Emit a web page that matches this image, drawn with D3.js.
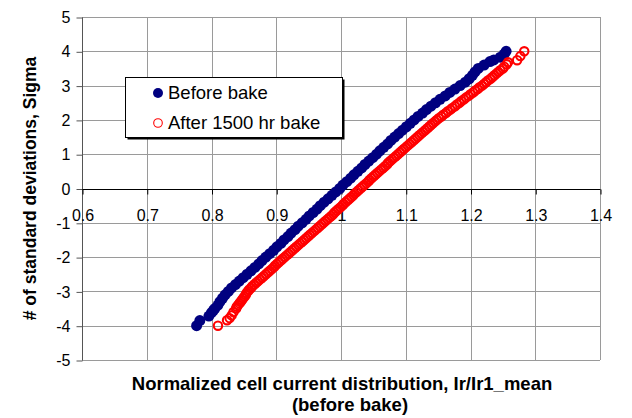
<!DOCTYPE html>
<html>
<head>
<meta charset="utf-8">
<script src="https://cdn.jsdelivr.net/npm/d3@7"></script>
<style>
  html, body { margin: 0; padding: 0; background: #fff; }
  svg { display: block; font-family: "Liberation Sans", Arial, sans-serif; }
</style>
</head>
<body>
<svg id="chart" width="632" height="418"></svg>
<script>
// ---- Data ----
const xTicks = [0.6, 0.7, 0.8, 0.9, 1, 1.1, 1.2, 1.3, 1.4];
const yTicks = [-5, -4, -3, -2, -1, 0, 1, 2, 3, 4, 5];
const seriesNames = ["Before bake", "After 1500 hr bake"];

// Before bake: sigma (y) and normalized current (x)
const beforeSigma = [-4.0, -3.85, -3.72, -3.62, -3.55,
  -3.5, -3.4, -3.3, -3.2, -3.1, -3.0, -2.9, -2.8, -2.7, -2.6, -2.5, -2.4, -2.3, -2.2, -2.1,
  -2.0, -1.9, -1.8, -1.7, -1.6, -1.5, -1.4, -1.3, -1.2, -1.1, -1.0, -0.9, -0.8, -0.7, -0.6,
  -0.5, -0.4, -0.3, -0.2, -0.1, 0.0, 0.1, 0.2, 0.3, 0.4, 0.5, 0.6, 0.7, 0.8, 0.9,
  1.0, 1.1, 1.2, 1.3, 1.4, 1.5, 1.6, 1.7, 1.8, 1.9, 2.0, 2.1, 2.2, 2.3, 2.4,
  2.5, 2.6, 2.7, 2.8, 2.9, 3.0, 3.1, 3.2, 3.3, 3.4, 3.5,
  3.6, 3.7, 3.75, 3.83, 3.92, 4.0];
const beforeX = [0.777, 0.782, 0.796, 0.800, 0.803,
  0.805, 0.810, 0.813, 0.817, 0.821, 0.826, 0.831, 0.837, 0.843, 0.849, 0.855, 0.861, 0.867, 0.873, 0.878,
  0.884, 0.890, 0.896, 0.901, 0.907, 0.912, 0.918, 0.923, 0.929, 0.934, 0.940, 0.946, 0.951, 0.957, 0.963,
  0.968, 0.974, 0.980, 0.986, 0.992, 0.998, 1.003, 1.009, 1.015, 1.020, 1.026, 1.032, 1.037, 1.043, 1.049,
  1.055, 1.060, 1.066, 1.072, 1.077, 1.083, 1.089, 1.095, 1.101, 1.107, 1.113, 1.119, 1.126, 1.132, 1.139,
  1.146, 1.153, 1.161, 1.168, 1.176, 1.184, 1.192, 1.198, 1.203, 1.207, 1.212,
  1.221, 1.230, 1.236, 1.246, 1.252, 1.255];

// After 1500 hr bake
const afterSigma = [-4.0, -3.84, -3.78, -3.7, -3.6, -3.5, -3.45,
  -3.40, -3.35, -3.30, -3.25, -3.20, -3.15, -3.10, -3.05, -3.00, -2.95, -2.90, -2.85, -2.80, -2.75,
  -2.70, -2.65, -2.60, -2.55, -2.50, -2.45, -2.40, -2.35, -2.30, -2.25, -2.20, -2.15, -2.10, -2.05,
  -2.00, -1.95, -1.90, -1.85, -1.80, -1.75, -1.70, -1.65, -1.60, -1.55, -1.50, -1.45, -1.40, -1.35,
  -1.30, -1.25, -1.20, -1.15, -1.10, -1.05, -1.00, -0.95, -0.90, -0.85, -0.80, -0.75, -0.70, -0.65,
  -0.60, -0.55, -0.50, -0.45, -0.40, -0.35, -0.30, -0.25, -0.20, -0.15, -0.10, -0.05, 0.00, 0.05,
  0.10, 0.15, 0.20, 0.25, 0.30, 0.35, 0.40, 0.45, 0.50, 0.55, 0.60, 0.65, 0.70, 0.75, 0.80, 0.85,
  0.90, 0.95, 1.00, 1.05, 1.10, 1.15, 1.20, 1.25, 1.30, 1.35, 1.40, 1.45, 1.50, 1.55, 1.60, 1.65,
  1.70, 1.75, 1.80, 1.85, 1.90, 1.95, 2.00, 2.05, 2.10, 2.15, 2.20, 2.25, 2.30, 2.35, 2.40, 2.45,
  2.50, 2.55, 2.60, 2.65, 2.70, 2.75, 2.80, 2.85, 2.90, 2.95, 3.00, 3.05, 3.10, 3.15, 3.20, 3.25,
  3.30, 3.35, 3.40, 3.45, 3.50, 3.55, 3.62, 3.68, 3.74, 3.86, 4.0];
const afterX = [0.810, 0.824, 0.828, 0.831, 0.834, 0.838, 0.839,
  0.841, 0.843, 0.845, 0.847, 0.849, 0.851, 0.853, 0.854, 0.856, 0.858, 0.861, 0.863, 0.866, 0.869,
  0.872, 0.875, 0.878, 0.881, 0.884, 0.887, 0.890, 0.893, 0.896, 0.898, 0.901, 0.904, 0.907, 0.910,
  0.913, 0.916, 0.919, 0.922, 0.925, 0.928, 0.931, 0.934, 0.937, 0.940, 0.943, 0.946, 0.949, 0.952,
  0.955, 0.958, 0.961, 0.964, 0.967, 0.970, 0.973, 0.976, 0.979, 0.982, 0.985, 0.988, 0.990, 0.993,
  0.996, 0.999, 1.002, 1.004, 1.007, 1.010, 1.013, 1.016, 1.019, 1.021, 1.024, 1.027, 1.030, 1.033,
  1.036, 1.039, 1.042, 1.044, 1.047, 1.050, 1.053, 1.056, 1.059, 1.062, 1.065, 1.068, 1.071, 1.073, 1.076, 1.079,
  1.082, 1.085, 1.088, 1.091, 1.094, 1.097, 1.100, 1.103, 1.106, 1.109, 1.112, 1.115, 1.118, 1.121, 1.124, 1.127,
  1.130, 1.133, 1.136, 1.139, 1.142, 1.145, 1.148, 1.151, 1.155, 1.158, 1.162, 1.165, 1.169, 1.172, 1.176, 1.179,
  1.183, 1.186, 1.190, 1.193, 1.197, 1.200, 1.204, 1.207, 1.211, 1.214, 1.218, 1.221, 1.224, 1.227, 1.231, 1.234,
  1.237, 1.240, 1.243, 1.246, 1.250, 1.252, 1.256, 1.258, 1.272, 1.277, 1.283];

// ---- Chart ----
const svg = d3.select("#chart");
const plot = { left: 82, right: 600, top: 17, bottom: 360 };

const x = d3.scaleLinear().domain([0.6, 1.4]).range([plot.left, plot.right]);
const y = d3.scaleLinear().domain([-5, 5]).range([plot.bottom, plot.top]);

const font = '"Liberation Sans", Arial, sans-serif';

// Grid lines
const grid = svg.append("g");
grid.selectAll("line.h").data(yTicks).join("line")
  .attr("x1", plot.left).attr("x2", plot.right)
  .attr("y1", d => Math.round(y(d)) + 0.5).attr("y2", d => Math.round(y(d)) + 0.5)
  .attr("stroke", "#9a9a9a").attr("stroke-width", 1);
grid.selectAll("line.v").data(xTicks.slice(1)).join("line")
  .attr("x1", d => Math.round(x(d)) + 0.5).attr("x2", d => Math.round(x(d)) + 0.5)
  .attr("y1", plot.top).attr("y2", plot.bottom)
  .attr("stroke", "#9a9a9a").attr("stroke-width", 1);

// Y axis (left)
const yAxis = d3.axisLeft(y).tickValues(yTicks).tickSize(6).tickPadding(6).tickFormat(d => String(d));
const gy = svg.append("g").attr("transform", `translate(${plot.left + 0.5},0.5)`).call(yAxis);
gy.select(".domain").attr("stroke", "#555").attr("d", `M0,${y(5)}V${y(-5)}`);
gy.selectAll(".tick line").attr("stroke", "#555");
gy.selectAll(".tick text").attr("font-size", 16).attr("font-family", font).attr("fill", "#000");

// X axis at sigma = 0
const xAxis = d3.axisBottom(x).tickValues(xTicks).tickSize(5).tickPadding(15).tickFormat(d => String(d));
const gx = svg.append("g").attr("transform", `translate(0.5,${Math.round(y(0)) + 0.5})`).call(xAxis);
gx.select(".domain").attr("stroke", "#000").attr("d", `M${x(0.6)},0H${x(1.4)}`);
gx.selectAll(".tick line").attr("stroke", "#000");
gx.selectAll(".tick text").attr("font-size", 16).attr("font-family", font).attr("fill", "#000");

// Data points
const before = beforeSigma.map((s, i) => ({ s, v: beforeX[i] }));
const after = afterSigma.map((s, i) => ({ s, v: afterX[i] }));

svg.append("g").selectAll("circle").data(before).join("circle")
  .attr("cx", d => x(d.v)).attr("cy", d => y(d.s)).attr("r", 5.5)
  .attr("fill", "#000080");

svg.append("g").selectAll("circle").data(after).join("circle")
  .attr("cx", d => x(d.v)).attr("cy", d => y(d.s)).attr("r", 4.2)
  .attr("fill", "none").attr("stroke", "#ff0000").attr("stroke-width", 2.1);

// Legend
const lg = svg.append("g");
lg.append("rect").attr("x", 127.5).attr("y", 79.5).attr("width", 217).attr("height", 60).attr("fill", "#000");
lg.append("rect").attr("x", 125.5).attr("y", 77.5).attr("width", 217).attr("height", 60)
  .attr("fill", "#fff").attr("stroke", "#000").attr("stroke-width", 1);
lg.append("circle").attr("cx", 158).attr("cy", 93).attr("r", 5).attr("fill", "#000080");
lg.append("circle").attr("cx", 158).attr("cy", 123).attr("r", 4.3).attr("fill", "none")
  .attr("stroke", "#ff0000").attr("stroke-width", 1.1);
lg.selectAll("text").data(seriesNames).join("text")
  .attr("x", 168).attr("y", (d, i) => 99 + i * 30)
  .attr("font-size", 18.5).attr("font-family", font).attr("fill", "#000")
  .text(d => d);

// Axis titles
svg.append("text")
  .attr("transform", `translate(36,${(plot.top + plot.bottom) / 2}) rotate(-90)`)
  .attr("text-anchor", "middle").attr("font-size", 17.5).attr("font-weight", "bold")
  .attr("font-family", font).text("# of standard deviations, Sigma");

svg.append("text").attr("x", 342).attr("y", 390).attr("text-anchor", "middle")
  .attr("font-size", 18.5).attr("font-weight", "bold").attr("font-family", font)
  .text("Normalized cell current distribution, Ir/Ir1_mean");
svg.append("text").attr("x", 350).attr("y", 411).attr("text-anchor", "middle")
  .attr("font-size", 18.5).attr("font-weight", "bold").attr("font-family", font)
  .text("(before bake)");
</script>
</body>
</html>
